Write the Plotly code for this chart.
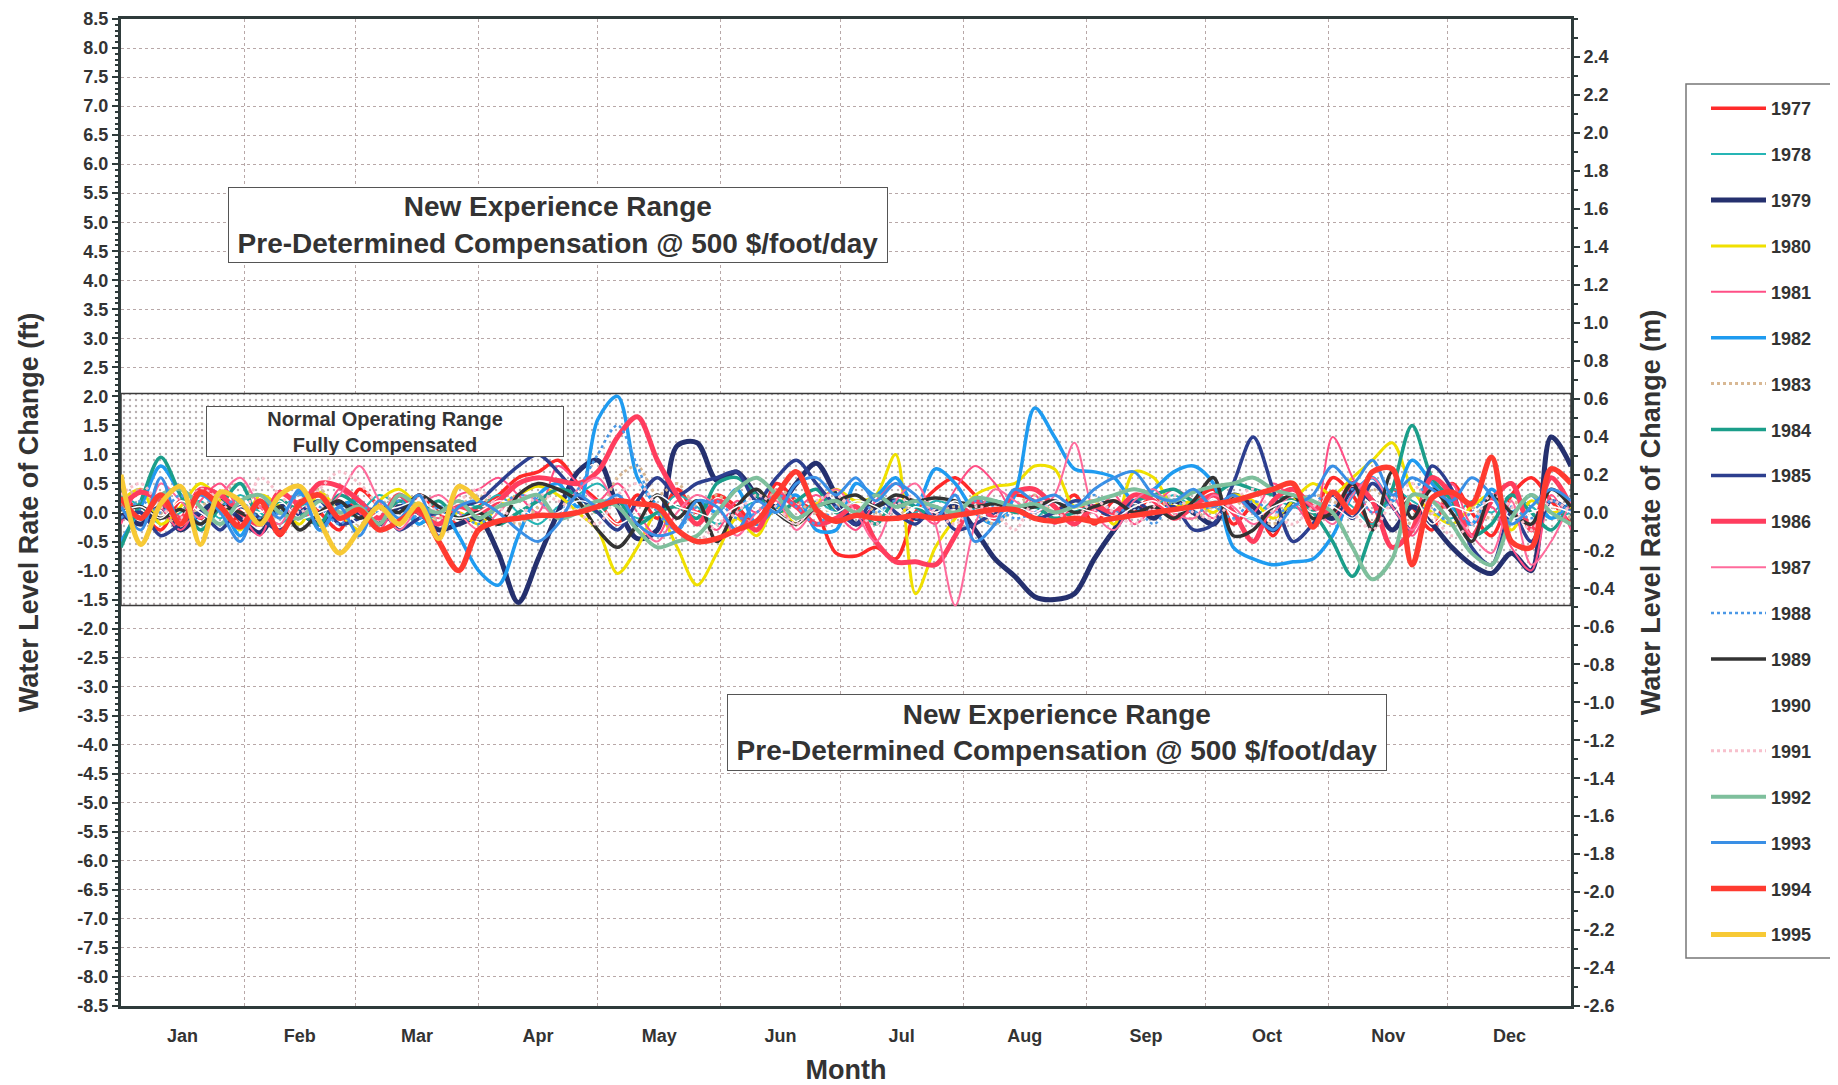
import plotly.graph_objects as go

# ---------------- data ----------------
DAYS = list(range(0, 366, 5))  # sampling days of year (every 5 days)
MONTHS = ["Jan", "Feb", "Mar", "Apr", "May", "Jun", "Jul", "Aug", "Sep", "Oct", "Nov", "Dec"]
MONTH_STARTS = [0, 31, 59, 90, 120, 151, 181, 212, 243, 273, 304, 334, 365]
MONTH_MIDS = [15.5, 45, 74.5, 105, 135.5, 166, 196.5, 227.5, 258, 288.5, 319, 349.5]

YEARS = [str(y) for y in range(1977, 1996)]

# values in ft/day, grouped Jan-Mar | Apr | May | Jun | Jul | Aug | Sep | Oct | Nov-Dec
Y1977 = [0.3, 0.0, -0.3, 0.2, -0.1, 0.35, -0.2, 0.1, -0.4, 0.2, 0.0, -0.3, 0.4, 0.1, -0.2, 0.3, 0.0, -0.2,
         0.1, 0.3, 0.6, 0.7, 0.9, 0.5,
         0.2, -0.2, 0.3, -0.1, 0.4, 0.0,
         0.3, 0.1, -0.2, 0.5, 0.2, 0.0,
         -0.7, -0.75, -0.6, -0.8, 0.0, 0.4,
         0.6, 0.3, 0.0, 0.3, 0.2, 0.0, 0.3,
         -0.2, 0.2, 0.0, 0.3, -0.1, 0.2,
         0.4, -0.2, 0.1, -0.4, 0.2, 0.0,
         0.6, 0.3, -0.2, 0.4, 0.1, -0.3, 0.5, 0.0, -0.4, 0.3, 0.6, 0.2, -0.2]
Y1978 = [0.3, 0.1, -0.2, 0.0, 0.2, -0.1, 0.3, 0.0, -0.2, 0.1, 0.2, -0.1, 0.0, 0.3, 0.1, -0.2, 0.0, 0.2,
         0.1, 0.3, 0.0, -0.2, 0.1, 0.3,
         0.5, 0.2, -0.1, 0.0, 0.3, 0.1,
         -0.2, 0.0, 0.2, 0.1, -0.1, 0.2,
         0.0, 0.2, 0.1, -0.1, 0.0, 0.2,
         0.1, 0.0, 0.2, 0.1, -0.1, 0.2, 0.0,
         0.1, 0.2, 0.0, 0.1, 0.3, 0.1,
         0.2, 0.0, -0.1, 0.2, 0.1, 0.0,
         0.3, 0.1, -0.2, 0.4, 0.2, 0.0, -0.1, 0.2, 0.0, 0.3, 0.1, -0.1, 0.0]
Y1979 = [0.0, -0.2, 0.1, -0.3, 0.0, 0.2, -0.1, -0.35, 0.1, 0.0, -0.2, 0.15, 0.0, -0.2, 0.1, 0.0, -0.3, -0.2,
         -0.1, -0.7, -1.55, -0.8, 0.0, 0.7,
         0.9, 0.1, -0.45, -0.3, 1.15, 1.2,
         0.55, 0.7, 0.3, 0.1, 0.5, 0.85,
         0.3, -0.2, 0.1, 0.2, -0.1, 0.0,
         0.1, -0.3, -0.8, -1.1, -1.45, -1.5, -1.4,
         -0.8, -0.3, 0.1, -0.1, 0.2, 0.0,
         -0.2, 0.3, 0.1, -0.3, 0.2, 0.1,
         -0.1, 0.4, 0.2, -0.3, 0.1, -0.2, -0.6, -0.9, -1.05, -0.7, -1.0, 1.3, 0.8]
Y1980 = [0.2, 0.4, -0.2, 0.1, 0.5, 0.2, -0.3, 0.3, 0.1, -0.2, 0.35, 0.0, -0.3, 0.2, 0.4, 0.1, -0.2, 0.0,
         -0.2, 0.1, 0.3, 0.45, 0.3, 0.0,
         -0.3, -1.05, -0.6, 0.0, -0.6, -1.25,
         -0.7, -0.1, -0.4, 0.1, -0.2, 0.15,
         0.4, 0.2, 0.3, 1.0, -1.4, -0.6,
         -0.1, 0.3, 0.45, 0.5, 0.8, 0.75, 0.1,
         0.2, -0.2, 0.7, 0.6, 0.1, 0.2,
         0.0, 0.3, 0.2, -0.1, 0.2, 0.5,
         0.3, 0.6, 0.9, 1.2, 0.4, 0.0, -0.2, 0.1, 0.3, -0.3, 0.2, 0.0, 0.1]
Y1981 = [-0.2, 0.4, 0.1, -0.3, 0.2, 0.5, 0.0, -0.4, 0.3, 0.1, -0.2, 0.4, 0.0, -0.3, 0.2, 0.1, -0.1, 0.3,
         0.4, 0.6, 0.3, 0.0, 0.8, 0.5,
         0.2, 0.5, 0.0, -0.4, 0.2, 0.0,
         -0.3, 0.2, 0.0, 0.4, 0.1, 0.3,
         0.0, -0.3, 0.2, 0.5, 0.1, -0.2,
         0.4, 0.8, 0.5, 0.0, 0.3, -0.2, 0.1,
         0.0, 0.3, -0.2, 0.1, 0.4, 0.2,
         -0.1, 0.3, 0.0, 0.5, 0.2, -0.2,
         1.3, 0.6, 0.0, 0.3, -0.4, 0.2, 0.5, -0.2, 0.1, -0.6, -1.0, 0.3, -0.3]
Y1982 = [-0.5, 0.1, 0.8, 0.3, -0.2, 0.1, -0.4, 0.2, 0.0, 0.35, -0.3, 0.1, 0.2, -0.1, 0.3, -0.2, 0.1, -0.4,
         -1.0, -1.25, -0.4, 0.3, 0.5, 0.1,
         1.6, 2.0, 0.6, 0.1, -0.3, 0.2,
         0.0, 0.4, -0.2, 0.1, 0.3, -0.3,
         -0.3, 0.5, 0.3, 0.6, 0.1, 0.75,
         0.5, 0.0, -0.2, 0.3, 1.8, 1.3, 0.75,
         0.7, 0.6, 0.2, 0.4, 0.7, 0.8,
         0.5, -0.6, -0.8, -0.9, -0.85, -0.8,
         -0.4, 0.3, 0.6, 0.2, 0.9, 0.5, 0.1, -0.2, 0.4, 0.0, 0.3, -0.1, 0.2]
Y1983 = [0.2, 0.4, 0.0, -0.2, 0.1, 0.3, 0.5, 0.1, -0.1, 0.2, 0.4, 0.0, -0.2, 0.1, 0.3, 0.0, -0.1, 0.1,
         0.3, 0.0, -0.2, 0.1, 0.4, 0.2,
         0.0, 0.6, 0.8, 0.3, 0.5, 0.1,
         0.3, 0.0, -0.2, 0.4, 0.2, 0.0,
         0.1, 0.3, 0.0, -0.1, 0.2, 0.0,
         0.1, 0.0, -0.2, 0.1, 0.3, 0.0, 0.1,
         0.2, 0.0, 0.1, 0.3, 0.0, -0.1,
         0.1, 0.2, 0.0, -0.2, 0.1, 0.3,
         0.2, 0.0, 0.4, 0.1, -0.2, 0.0, 0.3, 0.1, -0.1, 0.2, 0.0, 0.1, -0.1]
Y1984 = [-0.6, 0.2, 0.95, 0.3, -0.3, 0.1, 0.5, -0.1, 0.2, 0.0, -0.2, 0.3, 0.1, -0.1, 0.2, 0.0, 0.2, -0.1,
         0.1, -0.2, 0.0, 0.2, 0.4, 0.3,
         0.0, 0.2, -0.2, 0.0, 0.1, -0.1,
         0.5, 0.6, 0.3, 0.0, 0.2, 0.4,
         0.0, 0.1, -0.2, 0.2, 0.1, -0.1,
         0.0, 0.1, 0.2, 0.0, 0.1, -0.1, 0.0,
         0.1, 0.0, 0.2, 0.3, 0.4, 0.2,
         0.3, 0.5, 0.4, 0.3, 0.2, 0.0,
         -0.5, -1.1, -0.3, 0.4, 1.5, 0.6, 0.2, -0.4, -0.2, 0.3, 0.0, -0.3, 0.2]
Y1985 = [-0.1, 0.0, -0.4, -0.2, 0.0, -0.3, 0.1, -0.1, -0.3, 0.0, 0.2, -0.2, -0.1, 0.1, -0.3, -0.1, 0.0, 0.1,
         0.2, 0.5, 0.8, 1.0, 0.7, 0.3,
         0.0, -0.3, 0.2, 0.6, 0.3, 0.5,
         0.6, 0.7, 0.2, 0.6, 0.9, 0.5,
         0.1, -0.2, 0.3, 0.0, -0.2, 0.1,
         -0.3, -0.2, 0.0, 0.1, -0.1, 0.0, 0.2,
         0.1, -0.1, 0.2, 0.0, 0.1, -0.3,
         -0.2, 0.5, 1.3, 0.4, -0.5, -0.2,
         0.3, -0.1, 0.5, 0.1, -0.3, 0.8, 0.4, -0.6, -0.9, 0.0, -0.5, 0.2, 0.0]
Y1986 = [0.1, 0.35, 0.2, -0.1, 0.4, 0.3, 0.0, -0.2, 0.35, 0.15, 0.5, 0.45, 0.2, -0.1, 0.3, 0.0, -0.2, 0.1,
         0.0, 0.2, 0.5, 0.6, 0.55, 0.5,
         0.7, 1.3, 1.65, 0.9, 0.3, -0.2,
         0.2, 0.0, -0.3, 0.3, 0.1, -0.2,
         -0.1, 0.1, -0.5, -0.85, -0.85, -0.9,
         -0.4, 0.2, -0.1, 0.35, 0.4, 0.1, -0.2,
         0.1, 0.0, 0.3, 0.2, -0.1, 0.1,
         0.3, 0.0, -0.5, 0.2, 0.4, 0.1,
         0.0, 0.5, 0.2, -0.6, -0.3, 0.6, 0.3, -0.4, 0.2, 0.5, -0.3, 0.6, 0.1]
Y1987 = [0.1, -0.3, 0.5, 0.2, -0.1, 0.3, 0.6, 0.1, -0.2, 0.4, 0.0, 0.3, 0.8, 0.2, -0.3, 0.1, 0.3, 0.0,
         -0.3, 0.0, 0.3, 0.2, -0.1, 0.4,
         0.6, 0.1, -0.2, -0.5, 0.0, 0.3,
         0.1, -0.4, 0.0, 0.2, -0.3, 0.1,
         0.4, 0.0, -0.5, 0.2, 0.5, -0.2,
         -1.6, -0.2, 0.4, 0.2, 0.0, 0.3, 1.2,
         0.0, -0.3, 0.2, 0.4, 0.0, -0.1,
         0.3, 0.1, -0.2, 0.0, 0.3, 0.1,
         -0.2, 0.3, 0.6, 0.1, -0.3, 0.2, 0.0, -0.4, -0.7, 0.2, -0.9, -0.5, 0.2]
Y1988 = [-0.1, 0.2, 0.0, 0.3, -0.2, 0.1, 0.2, -0.1, 0.0, 0.3, 0.1, -0.2, 0.1, 0.0, 0.2, -0.1, 0.1, 0.0,
         -0.2, 0.1, 0.3, 0.2, 0.0, 0.4,
         1.0, 1.5, 0.8, 0.0, -0.3, 0.1,
         0.2, -0.1, 0.0, 0.3, 0.1, -0.2,
         0.1, 0.3, 0.0, 0.2, -0.1, 0.1,
         0.0, 0.2, 0.1, -0.1, 0.0, 0.2, 0.1,
         0.3, 0.0, 0.1, -0.2, 0.2, 0.0,
         0.1, -0.1, 0.2, 0.0, 0.1, 0.3,
         0.1, 0.4, 0.0, 0.2, 0.6, 0.1, -0.2, 0.0, 0.3, 0.1, -0.1, 0.2, 0.0]
Y1989 = [0.0, 0.1, -0.1, 0.05, -0.2, 0.1, 0.0, -0.15, 0.1, -0.3, 0.0, 0.2, -0.1, 0.1, 0.0, 0.3, 0.1, -0.1,
         0.0, -0.2, 0.3, 0.5, 0.4, 0.2,
         -0.3, -0.6, -0.2, 0.3, -0.1, 0.2,
         -0.5, 0.1, 0.4, 0.0, -0.2, 0.1,
         0.2, 0.3, 0.1, 0.3, 0.2, 0.25,
         0.2, 0.1, 0.15, 0.05, 0.1, 0.2, 0.0,
         0.1, 0.2, 0.0, 0.1, -0.1, 0.2,
         0.6, -0.4, -0.3, 0.1, 0.3, -0.1,
         0.0, 0.5, -0.3, 0.7, -0.1, 0.4, 0.0, -0.5, 0.3, 0.0, -0.2, 0.4, 0.1]
Y1990 = [0.0, 0.1, -0.1, 0.2, 0.0, -0.2, 0.1, 0.0, 0.2, -0.1, 0.0, 0.1, -0.2, 0.0, 0.1, 0.2, 0.0, -0.1,
         0.0, 0.2, 0.1, -0.1, 0.0, 0.2,
         0.1, -0.2, 0.0, 0.3, 0.1, 0.0,
         -0.1, 0.1, 0.2, 0.0, -0.2, 0.1,
         0.0, 0.2, 0.1, -0.1, 0.1, 0.0,
         0.2, 0.0, -0.1, 0.1, 0.0, 0.2, 0.1,
         0.0, -0.1, 0.1, 0.2, 0.0, 0.1,
         0.2, 0.0, -0.1, 0.1, 0.2, 0.0,
         0.1, -0.1, 0.2, 0.0, 0.3, -0.2, 0.1, 0.0, 0.2, -0.1, 0.0, 0.1, 0.0]
Y1991 = [0.3, 0.5, 0.1, -0.1, 0.4, 0.2, -0.2, 0.6, 0.3, 0.0, 0.4, 0.7, 0.5, 0.1, -0.2, 0.3, 0.0, 0.2,
         0.4, 0.1, -0.1, 0.3, 0.2, 0.0,
         -0.2, 0.3, 0.5, 0.1, -0.3, -0.5,
         -0.2, 0.0, 0.3, 0.1, -0.2, 0.2,
         0.3, 0.0, -0.2, 0.1, 0.3, 0.0,
         -0.2, 0.1, 0.0, -0.3, 0.2, 0.0, -0.1,
         0.2, 0.0, -0.2, 0.1, 0.3, 0.0,
         -0.1, 0.2, 0.4, 0.0, -0.2, 0.1,
         0.3, 0.0, -0.3, 0.2, 0.5, 0.0, -0.4, -0.2, 0.3, 0.1, -0.3, 0.2, 0.0]
Y1992 = [0.2, -0.1, 0.3, 0.4, 0.1, -0.2, 0.2, 0.3, 0.0, -0.1, 0.2, 0.0, 0.1, -0.2, 0.3, 0.1, 0.0, 0.2,
         -0.1, 0.1, 0.2, 0.3, -0.1, 0.0,
         0.2, 0.1, -0.3, -0.6, -0.5, -0.4,
         0.0, 0.4, 0.6, 0.3, -0.1, 0.1,
         0.2, 0.0, 0.3, 0.1, 0.2, 0.1,
         0.0, 0.25, 0.2, 0.1, 0.15, 0.0, 0.1,
         0.2, 0.3, 0.4, 0.3, 0.2, 0.35,
         0.45, 0.5, 0.6, 0.4, 0.3, 0.2,
         0.0, -0.6, -1.15, -0.8, 0.3, 0.2, -0.2, -0.7, -0.9, -0.1, 0.3, 0.0, -0.2]
Y1993 = [0.1, -0.3, 0.6, -0.2, 0.3, 0.0, -0.5, 0.2, -0.1, 0.4, -0.3, 0.1, -0.4, 0.2, -0.1, 0.3, -0.4, 0.1,
         0.2, 0.0, -0.3, -0.5, -0.2, 0.3,
         0.1, 0.3, -0.2, -0.4, -0.3, 0.2,
         0.1, -0.3, 0.2, 0.0, 0.5, 0.6,
         0.3, 0.6, 0.2, 0.5, 0.3, -0.1,
         0.3, -0.5, -0.2, 0.4, 0.2, 0.3, 0.1,
         0.4, 0.6, 0.7, 0.3, 0.2, 0.4,
         0.1, 0.3, 0.0, -0.3, 0.1, 0.3,
         0.8, 0.5, 0.9, 0.3, 0.6, 0.4, 0.2, 0.6, 0.3, -0.2, 0.1, 0.4, 0.2]
Y1994 = [0.25, -0.1, 0.3, -0.2, 0.35, 0.1, -0.25, 0.2, -0.35, 0.15, 0.3, -0.1, 0.05, -0.3, -0.15, 0.05, -0.5, -1.0,
         -0.3, -0.15, -0.1, -0.05, -0.05, 0.0,
         0.1, 0.2, 0.15, 0.1, -0.3, -0.5,
         -0.45, -0.3, -0.15, 0.3, 0.7, 0.05,
         -0.15, -0.05, -0.1, -0.1, -0.05, -0.1,
         -0.05, 0.0, 0.05, 0.05, -0.1, -0.15, -0.1,
         -0.15, -0.1, -0.05, 0.0, 0.05, 0.1,
         0.15, 0.2, 0.3, 0.4, 0.5, -0.25,
         0.35, 0.0, 0.7, 0.75, -0.9, 0.25, 0.35, 0.15, 0.95, -0.5, -0.6, 0.75, 0.5]
Y1995 = [0.65, -0.55, 0.15, 0.45, -0.55, 0.35, 0.2, -0.2, 0.3, 0.45, -0.15, -0.7, -0.3, 0.1, -0.2, 0.15, -0.45, 0.45,
         0.2]

SERIES = [Y1977, Y1978, Y1979, Y1980, Y1981, Y1982, Y1983, Y1984, Y1985, Y1986,
          Y1987, Y1988, Y1989, Y1990, Y1991, Y1992, Y1993, Y1994, Y1995]

NORMAL_LOW, NORMAL_HIGH = -1.6, 2.05   # normal operating band (ft)

# ---------------- styles ----------------
STYLES = {
    "1977": ("#ff2a2a", 3.5, "solid"),
    "1978": ("#26b5b5", 2.0, "solid"),
    "1979": ("#25306e", 5.0, "solid"),
    "1980": ("#f0e000", 3.0, "solid"),
    "1981": ("#ff4f86", 2.0, "solid"),
    "1982": ("#1f9bf0", 3.5, "solid"),
    "1983": ("#d8b894", 3.0, "dot"),
    "1984": ("#1b9e8a", 3.5, "solid"),
    "1985": ("#2d3f8f", 3.5, "solid"),
    "1986": ("#ff3d5e", 5.0, "solid"),
    "1987": ("#ff6b9c", 2.0, "solid"),
    "1988": ("#4b98e6", 2.5, "dot"),
    "1989": ("#333333", 3.5, "solid"),
    "1990": ("#ffffff", 1.5, "solid"),
    "1991": ("#f7c0cc", 3.0, "dot"),
    "1992": ("#7ebf9c", 4.0, "solid"),
    "1993": ("#3a8fe5", 3.0, "solid"),
    "1994": ("#ff3b30", 5.5, "solid"),
    "1995": ("#f7c935", 5.0, "solid"),
}

FONT = "Liberation Sans, Arial, sans-serif"
AXIS_COLOR = "#2f3b3b"
TEXT_COLOR = "#333333"
GRID_COLOR = "#b8a8a8"

fig = go.Figure()

# normal operating range band (stippled)
fig.add_trace(go.Scatter(
    x=[0, 365, 365, 0, 0],
    y=[NORMAL_LOW, NORMAL_LOW, NORMAL_HIGH, NORMAL_HIGH, NORMAL_LOW],
    fill="toself", mode="lines",
    fillpattern=dict(shape=".", fgcolor="#6e5e60", bgcolor="white", size=6, solidity=0.12),
    line=dict(color="#3a3a3a", width=1.5),
    showlegend=False, hoverinfo="skip",
))

for year, vals in zip(YEARS, SERIES):
    color, width, dash = STYLES[year]
    fig.add_trace(go.Scatter(
        x=DAYS[:len(vals)], y=vals, mode="lines", name=year,
        legendgroup=year,
        line=dict(color=color, width=width, dash=dash, shape="spline", smoothing=0.9),
    ))

# invisible trace to activate the right axis
fig.add_trace(go.Scatter(x=[0], y=[0], yaxis="y2", mode="markers",
                         marker=dict(opacity=0), showlegend=False, hoverinfo="skip"))

ft_ticks = [round(-8.5 + 0.5 * i, 1) for i in range(35)]
ft_text = [f"{v:.1f}" if abs(v) > 1e-9 else "0.0" for v in ft_ticks]
m_ticks = [round(-2.6 + 0.2 * i, 1) for i in range(26)]
m_text = [f"{v:.1f}" if abs(v) > 1e-9 else "0.0" for v in m_ticks]

box_font = dict(family=FONT, size=28, color=TEXT_COLOR, weight="bold")
annotations = [
    dict(x=109.9, y=4.96, xref="x", yref="y", showarrow=False,
         text="New Experience Range<br>Pre-Determined Compensation @ 500 $/foot/day",
         font=box_font, bgcolor="white", bordercolor="#555555", borderwidth=1,
         borderpad=1, width=656, height=72),
    dict(x=235.5, y=-3.79, xref="x", yref="y", showarrow=False,
         text="New Experience Range<br>Pre-Determined Compensation @ 500 $/foot/day",
         font=box_font, bgcolor="white", bordercolor="#555555", borderwidth=1,
         borderpad=1, width=656, height=73),
    dict(x=66.4, y=1.40, xref="x", yref="y", showarrow=False,
         text="Normal Operating Range<br>Fully Compensated",
         font=dict(family=FONT, size=20, color=TEXT_COLOR, weight="bold"),
         bgcolor="white", bordercolor="#555555", borderwidth=1,
         borderpad=1, width=354, height=47),
]

# page is 1838x1085; the figure sits 8px in from the top-left (page body margin)
PAGE_W, PAGE_H, OFF = 1838, 1085, 8
W, H = PAGE_W - OFF, PAGE_H - OFF
ML, MR, MT, MB = 121 - OFF, 267, 19 - OFF, 79
PW, PH = W - ML - MR, H - MT - MB

def px_x(p):
    """page x pixel -> paper fraction"""
    return (p - OFF - ML) / PW

def px_y(p):
    """page y pixel -> paper fraction"""
    return (H - MB - (p - OFF)) / PH

shapes = [
    dict(type="rect", xref="paper", yref="paper",
         x0=px_x(1686), x1=px_x(1831), y0=px_y(958), y1=px_y(84),
         line=dict(color="#777777", width=1.5), fillcolor="rgba(0,0,0,0)", layer="below"),
]

fig.update_layout(
    width=W, height=H,
    margin=dict(l=ML, r=MR, t=MT, b=MB, autoexpand=False),
    paper_bgcolor="white", plot_bgcolor="white",
    font=dict(family=FONT, color=TEXT_COLOR),
    showlegend=True,
    legend=dict(
        x=px_x(1706), y=px_y(90), xanchor="left", yanchor="top",
        bgcolor="rgba(0,0,0,0)", borderwidth=0,
        font=dict(family=FONT, size=18, color=TEXT_COLOR, weight="bold"),
        itemwidth=55, tracegroupgap=19.5, traceorder="grouped",
    ),
    xaxis=dict(
        range=[0, 365], tickmode="array", tickvals=MONTH_MIDS, ticktext=MONTHS,
        ticks="", showgrid=False, zeroline=False,
        tickfont=dict(family=FONT, size=18, color=TEXT_COLOR, weight="bold"),
        ticklabelstandoff=11,
        minor=dict(tickmode="array", tickvals=MONTH_STARTS, showgrid=True,
                   gridcolor=GRID_COLOR, griddash="dot", gridwidth=1, ticks=""),
        showline=True, linecolor=AXIS_COLOR, linewidth=3, mirror=True,
        title=dict(text="Month", standoff=22,
                   font=dict(family=FONT, size=27, color=TEXT_COLOR, weight="bold")),
    ),
    yaxis=dict(
        range=[-8.5, 8.5], tickmode="array", tickvals=ft_ticks, ticktext=ft_text,
        ticks="outside", ticklen=6, tickcolor=AXIS_COLOR, tickwidth=1.5,
        ticklabeloverflow="allow",
        showgrid=True, gridcolor=GRID_COLOR, griddash="dot", gridwidth=1,
        zeroline=False,
        minor=dict(dtick=0.1, tick0=0, ticks="outside", ticklen=3,
                   tickcolor=AXIS_COLOR, showgrid=False),
        tickfont=dict(family=FONT, size=18, color=TEXT_COLOR, weight="bold"),
        showline=True, linecolor=AXIS_COLOR, linewidth=3, mirror=True,
        title=dict(text="Water Level Rate of Change (ft)", standoff=31,
                   font=dict(family=FONT, size=27, color=TEXT_COLOR, weight="bold")),
    ),
    yaxis2=dict(
        overlaying="y", side="right", range=[-2.6001, 2.6],
        tickmode="array", tickvals=m_ticks, ticktext=m_text,
        ticks="outside", ticklen=6, tickcolor=AXIS_COLOR, tickwidth=1.5,
        ticklabeloverflow="allow",
        minor=dict(dtick=0.1, tick0=0, ticks="outside", ticklen=4,
                   tickcolor=AXIS_COLOR, showgrid=False),
        showgrid=False, zeroline=False,
        tickfont=dict(family=FONT, size=18, color=TEXT_COLOR, weight="bold"),
        showline=True, linecolor=AXIS_COLOR, linewidth=3,
        title=dict(text="Water Level Rate of Change (m)", standoff=28,
                   font=dict(family=FONT, size=27, color=TEXT_COLOR, weight="bold")),
    ),
    annotations=annotations,
    shapes=shapes,
)

fig.write_html("out.html")
